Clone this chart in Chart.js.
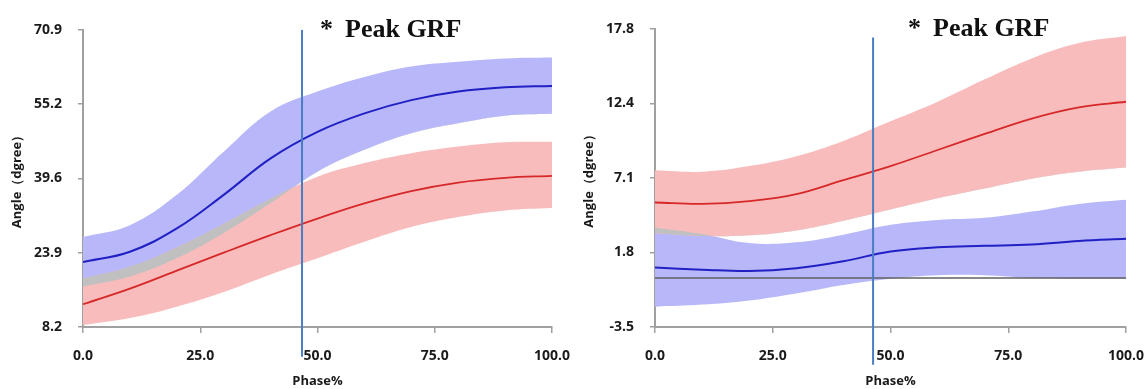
<!DOCTYPE html>
<html>
<head>
<meta charset="utf-8">
<script src="https://cdn.jsdelivr.net/npm/chart.js@4"></script>
<style>
  body { margin: 0; background: #fff; }
  .panel { position: absolute; top: 0; width: 572px; height: 389px; }
</style>
</head>
<body>
<div class="panel" style="left:0"><canvas id="leftChart" width="572" height="389"></canvas></div>
<div class="panel" style="left:572px"><canvas id="rightChart" width="572" height="389"></canvas></div>
<script>
// phase of the movement (%)
const phase = [0, 10, 20, 30, 40, 50, 60, 70, 80, 90, 100];

// left panel, angle (degree)
const leftBlueMean  = [21.9, 24.1, 29.0, 36.1, 43.8, 49.4, 53.3, 56.1, 57.9, 58.8, 59.1];
const leftBlueUpper = [27.2, 29.7, 36.1, 45.2, 53.7, 57.9, 61.0, 63.2, 64.2, 64.9, 65.1];
const leftBlueLower = [16.7, 18.8, 22.7, 28.0, 34.3, 41.0, 45.6, 49.1, 51.2, 52.8, 53.2];
const leftRedMean   = [13.0, 16.3, 20.1, 23.9, 27.6, 31.1, 34.3, 36.9, 38.7, 39.7, 40.1];
const leftRedUpper  = [18.4, 20.9, 25.0, 30.0, 35.3, 39.9, 42.8, 44.9, 46.3, 47.2, 47.3];
const leftRedLower  = [8.6, 10.1, 12.5, 15.6, 19.3, 22.7, 26.2, 29.3, 31.4, 32.8, 33.3];
const leftYTicks = ['8.2', '23.9', '39.6', '55.2', '70.9'];

// right panel, angle (degree)
const rightRedMean   = [5.4, 5.3, 5.5, 6.0, 7.0, 8.0, 9.15, 10.3, 11.4, 12.2, 12.6];
const rightRedUpper  = [7.7, 7.6, 8.0, 8.7, 9.8, 11.2, 12.6, 14.2, 15.7, 16.8, 17.3];
const rightRedLower  = [3.2, 3.0, 3.05, 3.4, 4.1, 4.9, 5.7, 6.4, 7.1, 7.6, 7.9];
const rightBlueMean  = [0.75, 0.6, 0.5, 0.7, 1.2, 1.9, 2.2, 2.3, 2.4, 2.65, 2.8];
const rightBlueUpper = [3.6, 3.15, 2.5, 2.55, 3.1, 3.8, 4.15, 4.3, 4.75, 5.3, 5.6];
const rightBlueLower = [-2.05, -1.9, -1.6, -1.1, -0.5, -0.05, 0.2, 0.2, 0.0, -0.05, -0.05];
const rightYTicks = ['-3.5', '1.8', '7.1', '12.4', '17.8'];

// peak GRF marker (phase %)
const peakPhase = [46.7, 46.3];

const BLUE_BAND = '#b7b7f9';
const RED_BAND = '#f9bcbc';
const OVERLAP = '#c0c0c0';
const BLUE_LINE = '#2020c4';
const RED_LINE = '#d62828';
const MARK_LINE = '#4a7ec2';
const AXIS = '#a0a0a0';
const TEXT = '#1a1a1a';
const NONE = 'rgba(0,0,0,0)';

const pts = ys => phase.map((x, i) => ({x, y: ys[i]}));

function curve(ys, color, width, order) {
  return {
    data: pts(ys), borderColor: color, borderWidth: width, pointRadius: 0,
    fill: false, order, tension: 0.4
  };
}

const notePlugin = {
  id: 'note',
  afterDraw(chart) {
    const n = chart.options.plugins.note;
    const ctx = chart.ctx;
    ctx.save();
    ctx.fillStyle = '#111';
    ctx.textBaseline = 'alphabetic';
    ctx.font = 'bold 26px "Liberation Serif", serif';
    ctx.fillText('*', n.star, n.base);
    ctx.fillText('Peak GRF', n.text, n.base);
    ctx.restore();
  }
};

function makeChart(el, p) {
  const datasets = [
    {...curve(p.blueUpper, NONE, 0, 4), fill: {target: '+1', above: BLUE_BAND, below: BLUE_BAND}},
    curve(p.blueLower, NONE, 0, 4),
    {...curve(p.redUpper, NONE, 0, 3), fill: {target: '+1', above: RED_BAND, below: RED_BAND}},
    curve(p.redLower, NONE, 0, 3)
  ];
  // grey where the two bands overlap
  if (p.lowerBand === 'red') {
    datasets.push({...curve(p.redUpper, NONE, 0, 2), fill: {target: 1, above: OVERLAP, below: NONE}});
  } else {
    datasets.push({...curve(p.blueUpper, NONE, 0, 2), fill: {target: 3, above: OVERLAP, below: NONE}});
  }
  if (p.zeroLine) {
    datasets.push({data: [{x: 0, y: 0}, {x: 100, y: 0}], borderColor: '#606060', borderWidth: 1.5,
      pointRadius: 0, fill: false, order: 1, tension: 0});
  }
  datasets.push(curve(p.blueMean, BLUE_LINE, 2, 1));
  datasets.push(curve(p.redMean, RED_LINE, 1.8, 1));
  datasets.push({data: [{x: p.peak, y: p.peakTop}, {x: p.peak, y: p.peakBottom}], borderColor: MARK_LINE,
    borderWidth: 2, pointRadius: 0, fill: false, order: 0, tension: 0, clip: false});

  const tickFont = {family: '"Open Sans", sans-serif', size: 14, weight: 'bold'};
  const titleFont = {family: '"Open Sans", sans-serif', size: 13, weight: 'bold'};

  return new Chart(el, {
    type: 'line',
    data: {datasets},
    plugins: [notePlugin],
    options: {
      responsive: false,
      animation: false,
      layout: {padding: {top: p.top, right: p.right, left: 0, bottom: 0}},
      plugins: {legend: {display: false}, tooltip: {enabled: false}, note: p.note},
      scales: {
        x: {
          type: 'linear', min: 0, max: 100,
          ticks: {stepSize: 25, callback: v => v.toFixed(1), font: tickFont, color: TEXT, padding: 15, maxRotation: 0, autoSkip: false},
          grid: {drawOnChartArea: false, tickLength: 6, color: AXIS, lineWidth: 1.5},
          border: {color: AXIS, width: 2},
          title: {display: true, text: 'Phase%', font: titleFont, color: TEXT, padding: {top: 0, bottom: 0}},
          afterFit: s => { s.height = 62; s.paddingLeft = 0; s.paddingRight = 0; }
        },
        y: {
          min: p.yMin, max: p.yMax,
          afterBuildTicks: s => {
            s.ticks = p.yTicks.map((t, i) => ({value: p.yMin + i * (p.yMax - p.yMin) / (p.yTicks.length - 1)}));
          },
          ticks: {callback: (v, i) => p.yTicks[i], font: tickFont, color: TEXT, padding: 16},
          grid: {drawOnChartArea: false, tickLength: 5, color: AXIS, lineWidth: 1.5},
          border: {color: AXIS, width: 2},
          title: {display: true, text: 'Angle（dgree）', font: titleFont, color: TEXT, padding: {top: 9, bottom: 0}},
          afterFit: s => { s.width = 83; s.paddingTop = 0; s.paddingBottom = 0; }
        }
      }
    }
  });
}

makeChart(document.getElementById('leftChart'), {
  blueMean: leftBlueMean, blueUpper: leftBlueUpper, blueLower: leftBlueLower,
  redMean: leftRedMean, redUpper: leftRedUpper, redLower: leftRedLower,
  lowerBand: 'red', zeroLine: false,
  yMin: 8.2, yMax: 70.9, yTicks: leftYTicks,
  peak: peakPhase[0], peakTop: 70.9, peakBottom: 1.9,
  top: 30, right: 20,
  note: {star: 320, text: 345, base: 37}
});

makeChart(document.getElementById('rightChart'), {
  blueMean: rightBlueMean, blueUpper: rightBlueUpper, blueLower: rightBlueLower,
  redMean: rightRedMean, redUpper: rightRedUpper, redLower: rightRedLower,
  lowerBand: 'blue', zeroLine: true,
  yMin: -3.5, yMax: 17.8, yTicks: rightYTicks,
  peak: peakPhase[1], peakTop: 17.2, peakBottom: -6.2,
  top: 29, right: 18,
  note: {star: 336, text: 361, base: 36}
});
</script>
</body>
</html>
